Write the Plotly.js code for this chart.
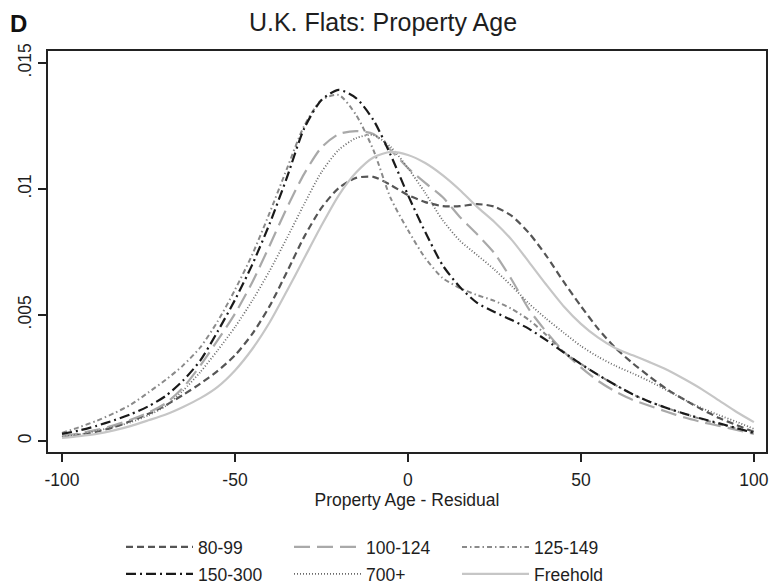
<!DOCTYPE html>
<html>
<head>
<meta charset="utf-8">
<script src="https://cdn.plot.ly/plotly-3.0.1.min.js"></script>
<style>html,body{margin:0;padding:0;background:#fff;}#chart{width:771px;height:585px;}</style>
</head>
<body>
<div id="chart"></div>
<script>
// Property Age residual grid (x)
const xVals = [-100,-95,-90,-85,-80,-75,-70,-65,-60,-55,-50,-45,-40,-35,-30,-25,-20,-15,-10,-5,0,5,10,15,20,25,30,35,40,45,50,55,60,65,70,75,80,85,90,95,100];

// Kernel density estimates
const s80_99 = [0.00016,0.00025,0.00037,0.00055,0.00080,0.00108,0.00142,0.00183,0.00228,0.00278,0.00340,0.00425,0.00535,0.00670,0.00810,0.00925,0.01004,0.01044,0.01048,0.01016,0.00976,0.00948,0.00932,0.00932,0.00940,0.00930,0.00893,0.00825,0.00735,0.00632,0.00535,0.00445,0.00369,0.00308,0.00254,0.00204,0.00163,0.00125,0.00091,0.00063,0.00036];
const s100_124 = [0.00020,0.00030,0.00044,0.00062,0.00085,0.00113,0.00150,0.00212,0.00300,0.00400,0.00505,0.00630,0.00775,0.00925,0.01060,0.01165,0.01218,0.01230,0.01218,0.01155,0.01083,0.01024,0.00968,0.00889,0.00820,0.00745,0.00640,0.00522,0.00433,0.00355,0.00292,0.00238,0.00196,0.00163,0.00139,0.00115,0.00093,0.00075,0.00060,0.00044,0.00028];
const s125_149 = [0.00032,0.00055,0.00080,0.00110,0.00145,0.00193,0.00243,0.00300,0.00372,0.00475,0.00600,0.00740,0.00905,0.01080,0.01250,0.01353,0.01373,0.01294,0.01155,0.00964,0.00837,0.00726,0.00647,0.00607,0.00579,0.00556,0.00524,0.00480,0.00421,0.00353,0.00306,0.00262,0.00222,0.00185,0.00155,0.00130,0.00107,0.00086,0.00067,0.00050,0.00032];
const s150_300 = [0.00028,0.00042,0.00060,0.00082,0.00107,0.00138,0.00179,0.00240,0.00320,0.00435,0.00560,0.00700,0.00862,0.01045,0.01240,0.01353,0.01393,0.01361,0.01274,0.01135,0.00976,0.00829,0.00698,0.00611,0.00548,0.00512,0.00480,0.00445,0.00400,0.00352,0.00305,0.00262,0.00222,0.00185,0.00155,0.00130,0.00108,0.00088,0.00070,0.00051,0.00032];
const s700plus = [0.00016,0.00026,0.00040,0.00056,0.00075,0.00102,0.00139,0.00200,0.00274,0.00360,0.00452,0.00557,0.00675,0.00805,0.00940,0.01067,0.01155,0.01202,0.01214,0.01167,0.01083,0.00984,0.00877,0.00795,0.00738,0.00680,0.00615,0.00545,0.00485,0.00430,0.00377,0.00334,0.00298,0.00268,0.00236,0.00200,0.00163,0.00130,0.00102,0.00076,0.00048];
const sFreehold = [0.00012,0.00019,0.00028,0.00042,0.00060,0.00082,0.00105,0.00135,0.00170,0.00215,0.00280,0.00365,0.00470,0.00595,0.00725,0.00855,0.00975,0.01065,0.01125,0.01147,0.01135,0.01103,0.01055,0.00996,0.00929,0.00869,0.00798,0.00710,0.00620,0.00535,0.00465,0.00410,0.00368,0.00340,0.00312,0.00282,0.00245,0.00205,0.00160,0.00115,0.00075];

const seriesNames = ["80-99","100-124","125-149","150-300","700+","Freehold"];
const xTickVals = [-100,-50,0,50,100];
const xTickText = ["-100","-50","0","50","100"];
const yTickVals = [0,0.005,0.01,0.015];
const yTickText = ["0",".005",".01",".015"];

const FONT = "Liberation Sans, Arial, Helvetica, sans-serif";
const TXT = "#1e1e1e";

function tr(y, name, color, dash, width, legend) {
  return {x: xVals, y: y, name: name, type: "scatter", mode: "lines",
    line: {color: color, dash: dash, width: width, shape: "spline", smoothing: 0.7},
    legend: legend, hoverinfo: "skip"};
}

const data = [
  tr(s80_99, seriesNames[0], "#555555", "7px,4px", 2.2, "legend"),
  tr(s100_124, seriesNames[1], "#a9a9a9", "16px,7px", 2.2, "legend"),
  tr(s125_149, seriesNames[2], "#8a8a8a", "5px,3px,1.5px,3px", 2.0, "legend"),
  tr(s150_300, seriesNames[3], "#1a1a1a", "10px,4px,2px,4px", 2.2, "legend2"),
  tr(s700plus, seriesNames[4], "#6a6a6a", "1px,2px", 1.8, "legend2"),
  tr(sFreehold, seriesNames[5], "#c6c6c6", "solid", 2.2, "legend2")
];

const legendCommon = {
  orientation: "h", xanchor: "left", yanchor: "top", xref: "container", yref: "container",
  entrywidth: 86, entrywidthmode: "pixels", itemwidth: 67,
  font: {family: FONT, size: 17.5, color: TXT},
  bgcolor: "rgba(0,0,0,0)", borderwidth: 0, traceorder: "normal"
};

const layout = {
  width: 771, height: 585,
  margin: {l: 48, r: 5, t: 51, b: 133, pad: 0, autoexpand: false},
  paper_bgcolor: "#ffffff", plot_bgcolor: "#ffffff",
  font: {family: FONT, size: 17.5, color: TXT},
  showlegend: true,
  title: {text: "U.K. Flats: Property Age", x: 383 / 771, xref: "container", xanchor: "center",
          y: 1 - 22/585, yref: "container", yanchor: "middle",
          font: {family: FONT, size: 25, color: TXT}},
  xaxis: {
    range: [-104.05, 103.5], tickvals: xTickVals, ticktext: xTickText,
    showgrid: false, zeroline: false, showline: true, linecolor: "#222", linewidth: 1.6,
    mirror: true, ticks: "outside", ticklen: 8, tickwidth: 1.6, tickcolor: "#222",
    ticklabelstandoff: 3, automargin: false,
    tickfont: {family: FONT, size: 17.5, color: TXT},
    title: {text: "Property Age - Residual", standoff: 5, font: {family: FONT, size: 17.5, color: TXT}}
  },
  yaxis: {
    range: [-0.000437, 0.015476], tickvals: yTickVals, ticktext: yTickText, tickangle: -90,
    showgrid: false, zeroline: false, showline: true, linecolor: "#222", linewidth: 1.6,
    mirror: true, ticks: "outside", ticklen: 8, tickwidth: 1.6, tickcolor: "#222", automargin: false,
    tickfont: {family: FONT, size: 17.5, color: TXT}
  },
  legend: Object.assign({}, legendCommon, {x: 121 / 771, y: 1 - 529 / 585}),
  legend2: Object.assign({}, legendCommon, {x: 121 / 771, y: 1 - 556 / 585}),
  annotations: [{
    text: "<b>D</b>", xref: "paper", yref: "paper",
    x: (8 - 48) / 718, y: (452 - 8) / 401, xanchor: "left", yanchor: "top",
    showarrow: false, font: {family: FONT, size: 24, color: "#111"}
  }]
};

Plotly.newPlot("chart", data, layout, {displayModeBar: false, staticPlot: true});
</script>
</body>
</html>
